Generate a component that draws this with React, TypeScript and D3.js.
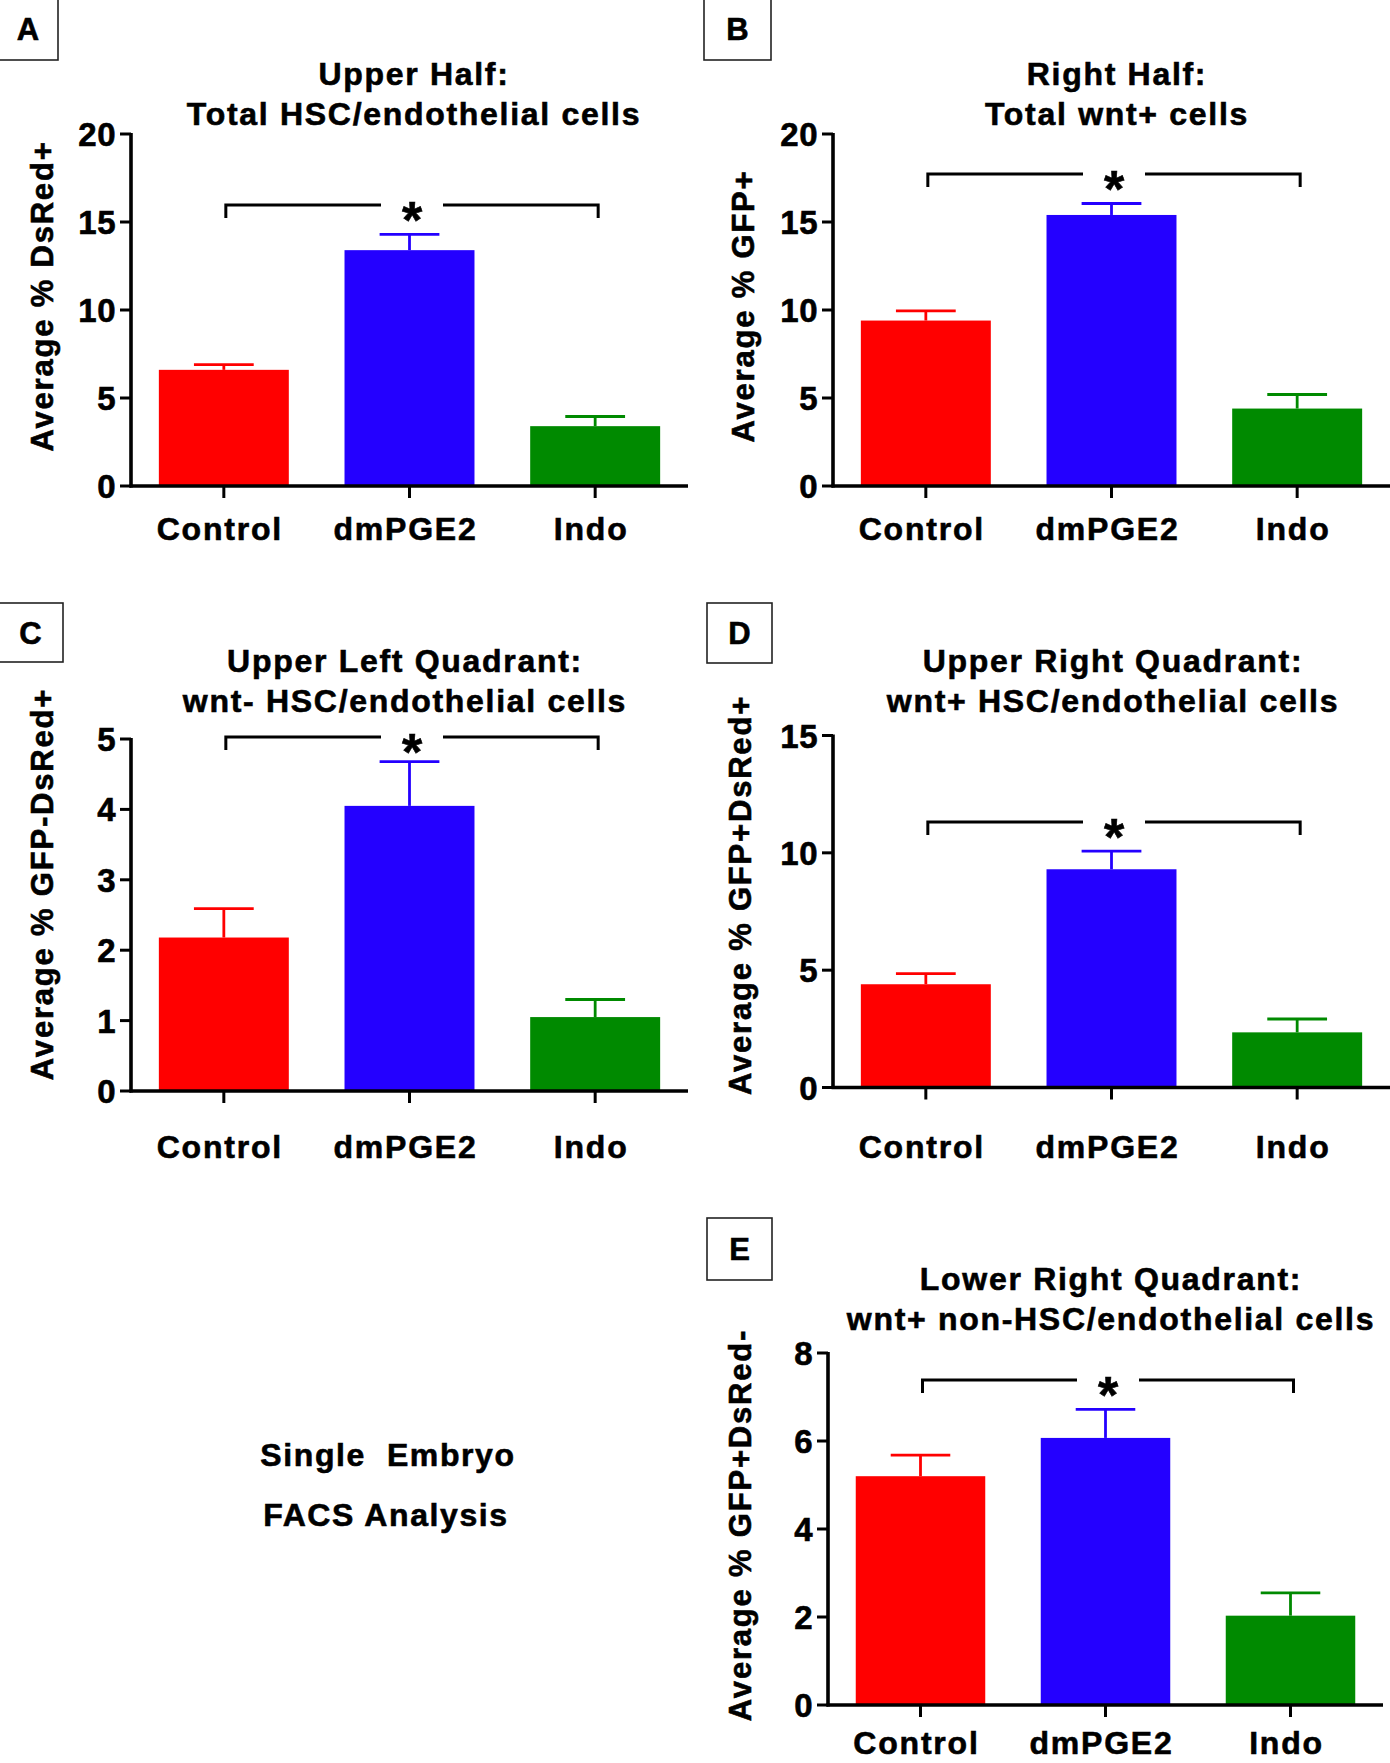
import React from 'react';
import * as d3 from 'd3';

// categories and colours shared by every panel
const categories = ['Control', 'dmPGE2', 'Indo'];
const barColors = ['#ff0000', '#2400ff', '#008a00'];

// A: Upper Half - Total HSC/endothelial cells
const upperHalfMean = [6.6, 13.4, 3.4];
const upperHalfSem = [0.3, 0.9, 0.55];
const upperHalfTicks = [0, 5, 10, 15, 20];

// B: Right Half - Total wnt+ cells
const rightHalfMean = [9.4, 15.4, 4.4];
const rightHalfSem = [0.55, 0.65, 0.8];
const rightHalfTicks = [0, 5, 10, 15, 20];

// C: Upper Left Quadrant
const upperLeftMean = [2.18, 4.05, 1.05];
const upperLeftSem = [0.41, 0.63, 0.25];
const upperLeftTicks = [0, 1, 2, 3, 4, 5];

// D: Upper Right Quadrant
const upperRightMean = [4.4, 9.3, 2.35];
const upperRightSem = [0.45, 0.77, 0.57];
const upperRightTicks = [0, 5, 10, 15];

// E: Lower Right Quadrant
const lowerRightMean = [5.2, 6.07, 2.03];
const lowerRightSem = [0.48, 0.65, 0.52];
const lowerRightTicks = [0, 2, 4, 6, 8];

const FONT = '"Liberation Sans", Arial, Helvetica, sans-serif';
const INK = '#000';
// slight outline so the text reads as heavy as the original export
const heavy = { stroke: INK, strokeWidth: 0.6 };

const Panel = ({ p }) => {
  const x = d3.scaleBand()
    .domain(categories)
    .range([p.axisX, p.axisEnd])
    .paddingInner(0.3)
    .paddingOuter(0.15);
  const y = d3.scaleLinear()
    .domain([0, p.ticks[p.ticks.length - 1]])
    .range([p.y0, p.yTop]);
  const bw = x.bandwidth();
  const cx = (c) => x(c) + bw / 2;

  const bx1 = cx(categories[0]) + 2;
  const bx2 = cx(categories[2]) + 3;
  const bmid = (bx1 + bx2) / 2;
  const by = p.bracketY;

  return (
    <g fontFamily={FONT} fontWeight="bold">
      {/* panel letter */}
      <rect x={p.box[0]} y={p.box[1]} width={p.box[2] - p.box[0]} height={p.box[3] - p.box[1]}
        fill="#fff" stroke="#222" strokeWidth={1.6} />
      <text x={(p.box[0] + p.box[2]) / 2} y={(p.box[1] + p.box[3]) / 2 + 11} textAnchor="middle"
        fontSize={31} fill={INK} {...heavy}>{p.letter}</text>

      {/* title */}
      <text x={p.titleX} y={p.titleY} textAnchor="middle" fontSize={32} letterSpacing={1.7} fill={INK} {...heavy}>
        {p.title[0]}
      </text>
      <text x={p.titleX} y={p.titleY + 40} textAnchor="middle" fontSize={32} letterSpacing={1.7} fill={INK} {...heavy}>
        {p.title[1]}
      </text>

      {/* y label */}
      <text transform={`translate(${p.ylabX},${p.ylabY}) rotate(-90)`} textAnchor="middle"
        fontSize={31} letterSpacing={1.8} fill={INK} {...heavy}>{p.ylabel}</text>

      {/* bars */}
      {categories.map((c, i) => (
        <rect key={c} x={x(c)} y={y(p.mean[i])} width={bw} height={p.y0 - y(p.mean[i])} fill={barColors[i]} />
      ))}

      {/* error bars */}
      {categories.map((c, i) => {
        const top = y(p.mean[i] + p.sem[i]);
        const half = bw * 0.23;
        return (
          <g key={c} stroke={barColors[i]} strokeWidth={2.8}>
            <line x1={cx(c)} x2={cx(c)} y1={y(p.mean[i])} y2={top} />
            <line x1={cx(c) - half} x2={cx(c) + half} y1={top} y2={top} />
          </g>
        );
      })}

      {/* y axis */}
      <line x1={p.axisX} x2={p.axisX} y1={p.yTop - 1} y2={p.y0 + 1.5} stroke={INK} strokeWidth={3.6} />
      {p.ticks.map((t) => (
        <g key={t}>
          <line x1={p.axisX - 11} x2={p.axisX} y1={y(t)} y2={y(t)} stroke={INK} strokeWidth={3} />
          <text x={p.axisX - 15} y={y(t) + 12} textAnchor="end" fontSize={33} letterSpacing={0.5} fill={INK} {...heavy}>
            {t}
          </text>
        </g>
      ))}

      {/* x axis */}
      <line x1={p.axisX - 1.5} x2={p.axisEnd} y1={p.y0} y2={p.y0} stroke={INK} strokeWidth={3.6} />
      {categories.map((c) => (
        <g key={c}>
          <line x1={cx(c)} x2={cx(c)} y1={p.y0} y2={p.y0 + 12} stroke={INK} strokeWidth={3} />
          <text x={cx(c) - 4} y={p.catY} textAnchor="middle" fontSize={32} letterSpacing={1.8} fill={INK} {...heavy}>
            {c}
          </text>
        </g>
      ))}

      {/* significance bracket */}
      <path d={`M${bx1},${by + 13}V${by}H${bmid - 31}M${bmid + 31},${by}H${bx2}V${by + 13}`}
        fill="none" stroke={INK} strokeWidth={3} />
      <text x={bmid} y={by + 33} textAnchor="middle" fontSize={52} fill={INK} {...heavy}>*</text>
    </g>
  );
};

const panels = [
  {
    letter: 'A', box: [-2, -2, 58, 60],
    title: ['Upper Half:', 'Total HSC/endothelial cells'], titleX: 414, titleY: 85,
    ylabel: 'Average % DsRed+', ylabX: 53, ylabY: 296,
    axisX: 131, axisEnd: 688, y0: 486, yTop: 134,
    ticks: upperHalfTicks, mean: upperHalfMean, sem: upperHalfSem,
    bracketY: 205, catY: 540,
  },
  {
    letter: 'B', box: [704, -2, 771, 60],
    title: ['Right Half:', 'Total wnt+ cells'], titleX: 1117, titleY: 85,
    ylabel: 'Average % GFP+', ylabX: 754, ylabY: 306,
    axisX: 833, axisEnd: 1390, y0: 486, yTop: 134,
    ticks: rightHalfTicks, mean: rightHalfMean, sem: rightHalfSem,
    bracketY: 174, catY: 540,
  },
  {
    letter: 'C', box: [-2, 603, 63, 662],
    title: ['Upper Left Quadrant:', 'wnt- HSC/endothelial cells'], titleX: 405, titleY: 672,
    ylabel: 'Average % GFP-DsRed+', ylabX: 53, ylabY: 884,
    axisX: 131, axisEnd: 688, y0: 1091, yTop: 739,
    ticks: upperLeftTicks, mean: upperLeftMean, sem: upperLeftSem,
    bracketY: 737, catY: 1158,
  },
  {
    letter: 'D', box: [707, 603, 772, 663],
    title: ['Upper Right Quadrant:', 'wnt+ HSC/endothelial cells'], titleX: 1113, titleY: 672,
    ylabel: 'Average % GFP+DsRed+', ylabX: 751, ylabY: 895,
    axisX: 833, axisEnd: 1390, y0: 1087.5, yTop: 735.5,
    ticks: upperRightTicks, mean: upperRightMean, sem: upperRightSem,
    bracketY: 822, catY: 1158,
  },
  {
    letter: 'E', box: [707, 1218, 772, 1280],
    title: ['Lower Right Quadrant:', 'wnt+ non-HSC/endothelial cells'], titleX: 1111, titleY: 1290,
    ylabel: 'Average % GFP+DsRed-', ylabX: 751, ylabY: 1525,
    axisX: 828, axisEnd: 1383, y0: 1705, yTop: 1353,
    ticks: lowerRightTicks, mean: lowerRightMean, sem: lowerRightSem,
    bracketY: 1380, catY: 1754,
  },
];

export default function App() {
  return (
    <div style={{ position: 'absolute', left: 0, top: 0, background: '#fff' }}>
      <svg width={1390} height={1763} style={{ display: 'block' }}>
        <rect width={1390} height={1763} fill="#fff" />
        {panels.map((p) => <Panel key={p.letter} p={p} />)}
        <g fontFamily={FONT} fontWeight="bold" fontSize={32} letterSpacing={1.6} fill={INK} textAnchor="middle" {...heavy}>
          <text x={388} y={1466} style={{ whiteSpace: 'pre' }}>{'Single  Embryo'}</text>
          <text x={386} y={1526}>FACS Analysis</text>
        </g>
      </svg>
    </div>
  );
}
